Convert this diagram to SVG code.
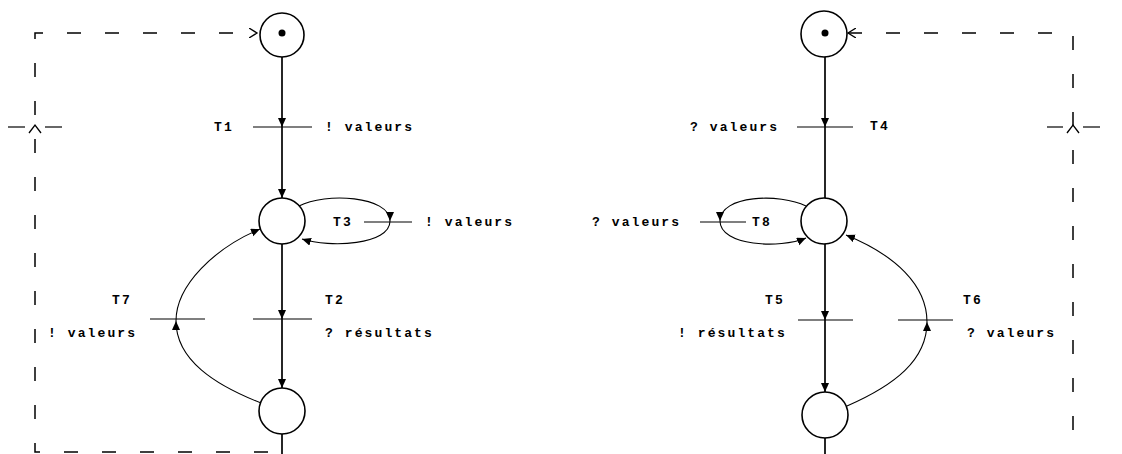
<svg xmlns="http://www.w3.org/2000/svg" width="1122" height="454" viewBox="0 0 1122 454">
<style>
.place{fill:none;stroke:#000;stroke-width:1.6}
.token{fill:#000}
.arc{fill:none;stroke:#000;stroke-width:1.7}
.carc{fill:none;stroke:#000;stroke-width:1.1}
.bar{stroke:#000;stroke-width:1.2}
.dash{fill:none;stroke:#000;stroke-width:1.5;stroke-dasharray:14 24}
.chev{fill:none;stroke:#000;stroke-width:1.3}
text{font-family:"Liberation Mono",monospace;font-weight:bold;font-size:13px;letter-spacing:2.1px;fill:#000}
</style>
<defs>
<marker id="arr" markerWidth="10" markerHeight="9" refX="9" refY="4" orient="auto" markerUnits="userSpaceOnUse">
<path d="M0,0 L9,4 L0,8 z" fill="#000"/>
</marker>
<marker id="open" markerWidth="10" markerHeight="10" refX="8" refY="5" orient="auto-start-reverse" markerUnits="userSpaceOnUse">
<path d="M0,0 L8,5 L0,10" fill="none" stroke="#000" stroke-width="1.3"/>
</marker>
</defs>

<g id="connectors">
<line class="arc" x1="282" y1="57" x2="282" y2="127" marker-end="url(#arr)"/>
<line class="arc" x1="282" y1="127" x2="282" y2="198" marker-end="url(#arr)"/>
<line class="arc" x1="282" y1="244" x2="282" y2="319" marker-end="url(#arr)"/>
<line class="arc" x1="282" y1="319" x2="282" y2="388" marker-end="url(#arr)"/>
<line class="arc" x1="282" y1="434" x2="282" y2="454"/>
<path class="carc" d="M299 206 C325 192 390 196 390 221" marker-end="url(#arr)"/>
<path class="carc" d="M390 221 C390 245 330 248 302 239" marker-end="url(#arr)"/>
<path class="carc" d="M261 403 C215 385 176 360 176 321" marker-end="url(#arr)"/>
<path class="carc" d="M176 321 C176 285 215 248 260 229" marker-end="url(#arr)"/>
<path class="dash" d="M268 452 H35 V33 H257" marker-end="url(#open)"/>
<line class="arc" x1="825" y1="57" x2="825" y2="127" marker-end="url(#arr)"/>
<line class="arc" x1="825" y1="127" x2="825" y2="198"/>
<line class="arc" x1="825" y1="244" x2="825" y2="320" marker-end="url(#arr)"/>
<line class="arc" x1="825" y1="320" x2="825" y2="392" marker-end="url(#arr)"/>
<line class="arc" x1="825" y1="438" x2="825" y2="454"/>
<path class="carc" d="M806 206 C780 193 720 195 720 221" marker-end="url(#arr)"/>
<path class="carc" d="M720 221 C720 246 780 249 806 238" marker-end="url(#arr)"/>
<path class="carc" d="M847 406 C895 385 927 360 927 322" marker-end="url(#arr)"/>
<path class="carc" d="M927 322 C927 285 895 255 846 235" marker-end="url(#arr)"/>
<path class="dash" d="M848 33 H1073 V454" marker-start="url(#open)"/>
</g>

<g id="P1"><circle class="place" cx="282" cy="35" r="22"/><circle class="token" cx="282" cy="33" r="3.5"/></g>
<g id="P2"><circle class="place" cx="282" cy="221" r="23"/></g>
<g id="P3"><circle class="place" cx="282" cy="411" r="23"/></g>
<g id="P4"><circle class="place" cx="824" cy="34" r="23"/><circle class="token" cx="825" cy="33" r="3.5"/></g>
<g id="P5"><circle class="place" cx="824" cy="221" r="23"/></g>
<g id="P6"><circle class="place" cx="825" cy="415" r="23"/></g>

<g id="T1"><line class="bar" x1="253" y1="127" x2="312" y2="127"/><text x="214" y="131">T1</text><text x="325" y="131">! valeurs</text></g>
<g id="T2"><line class="bar" x1="253" y1="319" x2="312" y2="319"/><text x="325" y="304">T2</text><text x="325" y="337">? résultats</text></g>
<g id="T3"><line class="bar" x1="364" y1="222" x2="412" y2="222"/><text x="333" y="226">T3</text><text x="425" y="226">! valeurs</text></g>
<g id="T7"><line class="bar" x1="150" y1="319" x2="205" y2="319"/><text x="112" y="304">T7</text><text x="48" y="337">! valeurs</text></g>
<g id="TL"><line class="bar" x1="8" y1="127" x2="25" y2="127"/><line class="bar" x1="45" y1="127" x2="62" y2="127"/><polyline class="chev" points="29,133 35,125 41,133"/></g>

<g id="T4"><line class="bar" x1="797" y1="127" x2="853" y2="127"/><text x="690" y="131">? valeurs</text><text x="870" y="130">T4</text></g>
<g id="T5"><line class="bar" x1="798" y1="320" x2="853" y2="320"/><text x="765" y="304">T5</text><text x="678" y="337">! résultats</text></g>
<g id="T8"><line class="bar" x1="700" y1="222" x2="746" y2="222"/><text x="752" y="226">T8</text><text x="592" y="226">? valeurs</text></g>
<g id="T6"><line class="bar" x1="898" y1="320" x2="953" y2="320"/><text x="963" y="304">T6</text><text x="967" y="337">? valeurs</text></g>
<g id="TR"><line class="bar" x1="1047" y1="127" x2="1063" y2="127"/><line class="bar" x1="1083" y1="127" x2="1100" y2="127"/><polyline class="chev" points="1067,133 1073,125 1079,133"/></g>
</svg>
